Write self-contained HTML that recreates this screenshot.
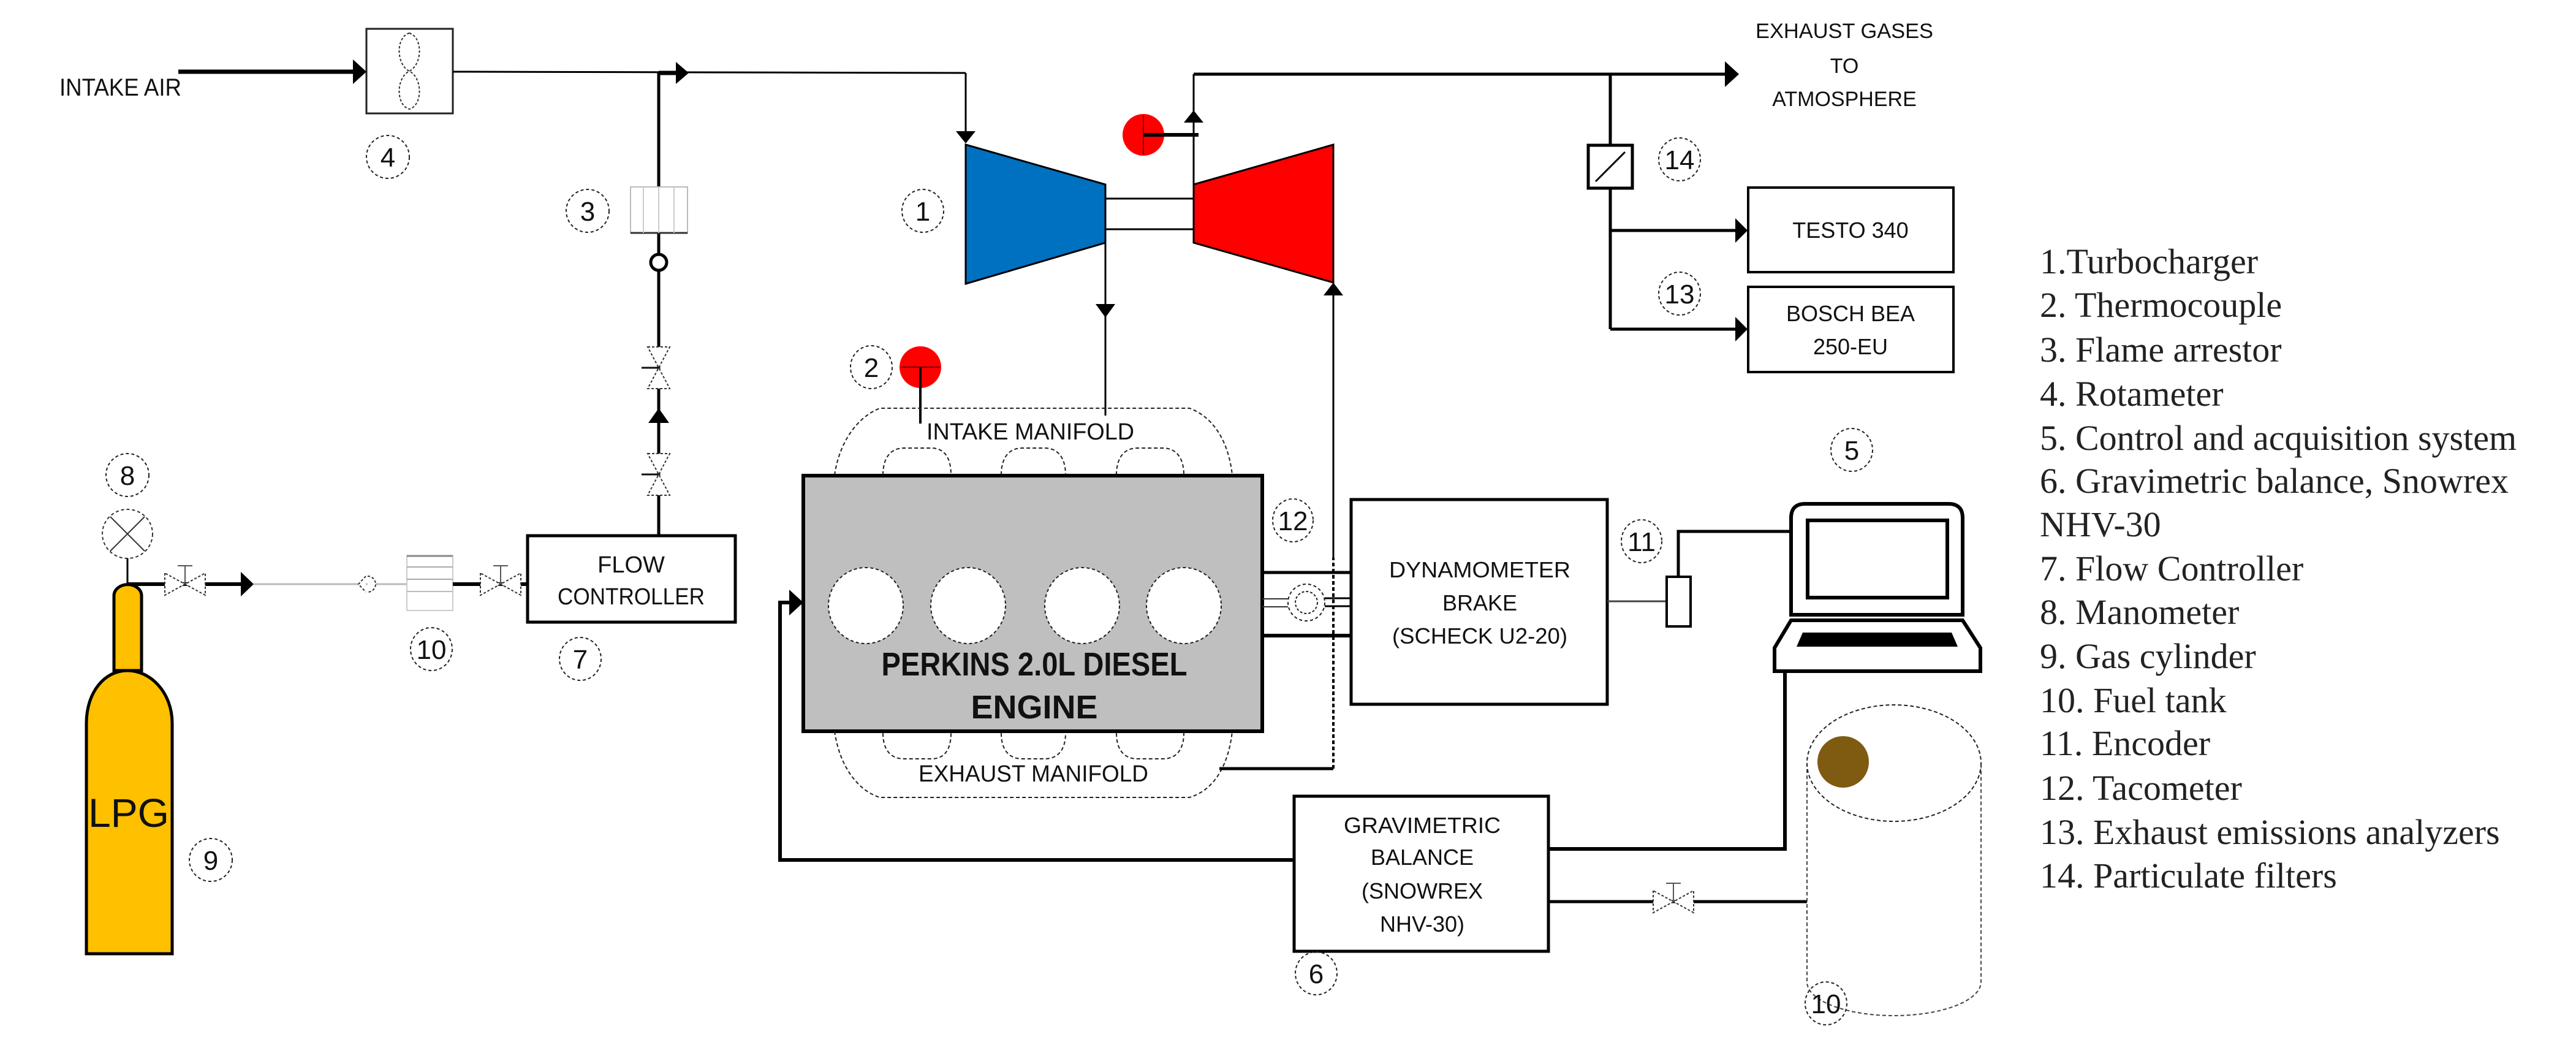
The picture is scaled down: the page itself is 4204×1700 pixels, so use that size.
<!DOCTYPE html>
<html><head><meta charset="utf-8"><style>
html,body{margin:0;padding:0;background:#fff;}
svg{display:block;}
.s{font-family:"Liberation Sans",sans-serif;fill:#111;}
.n{font-family:"Liberation Sans",sans-serif;font-size:44px;fill:#111;text-anchor:middle;}
.lg{font-family:"Liberation Serif",serif;font-size:58px;fill:#222;}
</style></head><body>
<svg width="4204" height="1700" viewBox="0 0 4204 1700" xmlns="http://www.w3.org/2000/svg">
<defs>
<g id="valveH"><path d="M-33,-18 L-33,18 L33,-18 L33,18 Z" fill="#fff" stroke="#333" stroke-width="2" stroke-dasharray="4,3"/><line x1="0" y1="0" x2="0" y2="-30" stroke="#555" stroke-width="2"/><line x1="-12" y1="-30" x2="12" y2="-30" stroke="#555" stroke-width="2"/></g>
<g id="valveV"><path d="M-18,-34 L18,-34 L-18,34 L18,34 Z" fill="#fff" stroke="#333" stroke-width="2" stroke-dasharray="4,3"/><line x1="0" y1="0" x2="-28" y2="0" stroke="#111" stroke-width="3"/></g>
</defs>
<rect width="4204" height="1700" fill="#fff"/>

<text class="s" x="97" y="156" font-size="40" textLength="199" lengthAdjust="spacingAndGlyphs">INTAKE AIR</text>
<line x1="291" y1="117" x2="580" y2="117" stroke="#000" stroke-width="7"/>
<polygon points="576,97 598,117 576,137" fill="#000"/>
<rect x="598" y="47" width="141" height="138" fill="#fff" stroke="#222" stroke-width="3"/>
<path d="M668,54 C690,60 690,105 668,116 C646,127 646,172 668,178 C690,172 690,127 668,116 C646,105 646,60 668,54 Z" fill="none" stroke="#333" stroke-width="2" stroke-dasharray="4,3"/>
<ellipse cx="633" cy="256" rx="35" ry="35" fill="none" stroke="#222" stroke-width="2" stroke-dasharray="5,4"/><text class="n" x="633" y="272">4</text>

<line x1="739" y1="117" x2="1576" y2="119" stroke="#000" stroke-width="3"/>
<line x1="1576" y1="119" x2="1576" y2="220" stroke="#000" stroke-width="3"/>
<polygon points="1560,214 1592,214 1576,234" fill="#000"/>
<line x1="1075" y1="119" x2="1075" y2="874" stroke="#000" stroke-width="5"/>
<polygon points="1103,101 1124,119 1103,137" fill="#000"/>
<line x1="1075" y1="119" x2="1105" y2="119" stroke="#000" stroke-width="7"/>
<rect x="1029" y="305" width="93" height="75" fill="#fff" stroke="#bbb" stroke-width="2"/>
<line x1="1029" y1="380" x2="1122" y2="380" stroke="#333" stroke-width="3"/>
<line x1="1050" y1="305" x2="1050" y2="380" stroke="#ccc" stroke-width="2"/><line x1="1075" y1="305" x2="1075" y2="380" stroke="#ccc" stroke-width="2"/><line x1="1100" y1="305" x2="1100" y2="380" stroke="#ccc" stroke-width="2"/>
<ellipse cx="959" cy="344" rx="35" ry="35" fill="none" stroke="#222" stroke-width="2" stroke-dasharray="5,4"/><text class="n" x="959" y="360">3</text>
<circle cx="1075" cy="428" r="13" fill="#fff" stroke="#000" stroke-width="5"/>
<use href="#valveV" x="1075" y="600"/>
<polygon points="1058,690 1092,690 1075,666" fill="#000"/>
<use href="#valveV" x="1075" y="774"/>

<rect x="861" y="874" width="339" height="141" fill="#fff" stroke="#000" stroke-width="5"/>
<text class="s" x="1030" y="934" font-size="38" text-anchor="middle">FLOW</text>
<text class="s" x="1030" y="986" font-size="38" text-anchor="middle" textLength="240" lengthAdjust="spacingAndGlyphs">CONTROLLER</text>
<ellipse cx="947" cy="1075" rx="34" ry="35" fill="none" stroke="#222" stroke-width="2" stroke-dasharray="5,4"/><text class="n" x="947" y="1091">7</text>

<ellipse cx="208" cy="871" rx="41" ry="40" fill="#fff" stroke="#333" stroke-width="2" stroke-dasharray="5,4"/>
<line x1="180" y1="843" x2="236" y2="899" stroke="#333" stroke-width="2"/><line x1="236" y1="843" x2="180" y2="899" stroke="#333" stroke-width="2"/>
<ellipse cx="208" cy="775" rx="35" ry="35" fill="none" stroke="#222" stroke-width="2" stroke-dasharray="5,4"/><text class="n" x="208" y="791">8</text>
<line x1="208" y1="911" x2="208" y2="953" stroke="#000" stroke-width="3"/>
<line x1="208" y1="953" x2="400" y2="953" stroke="#000" stroke-width="6"/>
<use href="#valveH" x="302" y="953"/>
<polygon points="393,933 414,953 393,973" fill="#000"/>
<line x1="414" y1="953" x2="664" y2="953" stroke="#bbb" stroke-width="3"/>
<path d="M597,940 L585,953 L597,966 M600,940 A13,13 0 1 1 600,966" fill="#fff" stroke="#333" stroke-width="2" stroke-dasharray="4,3"/>
<rect x="664" y="907" width="75" height="89" fill="#fff" stroke="#ccc" stroke-width="2"/>
<line x1="664" y1="907" x2="739" y2="907" stroke="#888" stroke-width="3"/><line x1="664" y1="925" x2="739" y2="925" stroke="#aaa" stroke-width="2"/><line x1="664" y1="945" x2="739" y2="945" stroke="#aaa" stroke-width="2"/><line x1="664" y1="965" x2="739" y2="965" stroke="#bbb" stroke-width="2"/>
<line x1="739" y1="953" x2="861" y2="953" stroke="#000" stroke-width="6"/>
<use href="#valveH" x="817" y="953"/>
<ellipse cx="704" cy="1059" rx="34" ry="35" fill="none" stroke="#222" stroke-width="2" stroke-dasharray="5,4"/><text class="n" x="704" y="1075">10</text>

<path d="M186,1094 L186,972 A22,18 0 0 1 231,972 L231,1094 Z" fill="#ffc000" stroke="#000" stroke-width="5"/>
<path d="M141,1556 L141,1180 C141,1130 170,1094 208,1094 C246,1094 281,1130 281,1180 L281,1556 Z" fill="#ffc000" stroke="#000" stroke-width="5"/>
<text class="s" x="210" y="1349" font-size="66" text-anchor="middle">LPG</text>
<ellipse cx="344" cy="1403" rx="35" ry="35" fill="none" stroke="#222" stroke-width="2" stroke-dasharray="5,4"/><text class="n" x="344" y="1419">9</text>

<polygon points="1576,236 1804,301 1804,396 1576,463" fill="#0070c0" stroke="#000" stroke-width="3"/>
<polygon points="1948,301 2176,236 2176,461 1948,396" fill="#ff0000" stroke="#000" stroke-width="3"/>
<line x1="1804" y1="324" x2="1948" y2="324" stroke="#000" stroke-width="3"/>
<line x1="1804" y1="374" x2="1948" y2="374" stroke="#000" stroke-width="3"/>
<ellipse cx="1506" cy="344" rx="34" ry="35" fill="none" stroke="#222" stroke-width="2" stroke-dasharray="5,4"/><text class="n" x="1506" y="360">1</text>
<line x1="1804" y1="396" x2="1804" y2="678" stroke="#000" stroke-width="3"/>
<polygon points="1788,496 1820,496 1804,518" fill="#000"/>
<line x1="1948" y1="301" x2="1948" y2="121" stroke="#000" stroke-width="3"/>
<polygon points="1932,200 1964,200 1948,180" fill="#000"/>
<line x1="1948" y1="121" x2="2815" y2="121" stroke="#000" stroke-width="5"/>
<polygon points="2815,100 2838,121 2815,142" fill="#000"/>
<ellipse cx="1866" cy="220" rx="34" ry="34" fill="#ff0000"/>
<line x1="1866" y1="188" x2="1866" y2="252" stroke="#600" stroke-width="2"/>
<line x1="1866" y1="220" x2="1956" y2="220" stroke="#000" stroke-width="6"/>
<text class="s" x="3010" y="62" font-size="34" text-anchor="middle" textLength="290" lengthAdjust="spacingAndGlyphs">EXHAUST GASES</text>
<text class="s" x="3010" y="119" font-size="34" text-anchor="middle">TO</text>
<text class="s" x="3010" y="173" font-size="34" text-anchor="middle">ATMOSPHERE</text>

<line x1="2628" y1="121" x2="2628" y2="537" stroke="#000" stroke-width="5"/>
<rect x="2592" y="237" width="72" height="70" fill="#fff" stroke="#000" stroke-width="5"/>
<line x1="2604" y1="296" x2="2652" y2="248" stroke="#000" stroke-width="3"/>
<ellipse cx="2741" cy="260" rx="34" ry="35" fill="none" stroke="#222" stroke-width="2" stroke-dasharray="5,4"/><text class="n" x="2741" y="276">14</text>
<line x1="2628" y1="376" x2="2835" y2="376" stroke="#000" stroke-width="5"/>
<polygon points="2832,356 2852,376 2832,396" fill="#000"/>
<line x1="2628" y1="537" x2="2835" y2="537" stroke="#000" stroke-width="5"/>
<polygon points="2832,517 2852,537 2832,557" fill="#000"/>
<rect x="2853" y="306" width="335" height="138" fill="#fff" stroke="#000" stroke-width="4"/>
<text class="s" x="3020" y="388" font-size="36" text-anchor="middle">TESTO 340</text>
<rect x="2853" y="468" width="335" height="139" fill="#fff" stroke="#000" stroke-width="4"/>
<text class="s" x="3020" y="524" font-size="36" text-anchor="middle">BOSCH BEA</text>
<text class="s" x="3020" y="578" font-size="36" text-anchor="middle">250-EU</text>
<ellipse cx="2741" cy="479" rx="34" ry="35" fill="none" stroke="#222" stroke-width="2" stroke-dasharray="5,4"/><text class="n" x="2741" y="495">13</text>

<ellipse cx="1502" cy="599" rx="34" ry="34" fill="#ff0000"/>
<line x1="1470" y1="599" x2="1534" y2="599" stroke="#600" stroke-width="2"/>
<line x1="1502" y1="599" x2="1502" y2="691" stroke="#000" stroke-width="4"/>
<ellipse cx="1422" cy="599" rx="34" ry="35" fill="none" stroke="#222" stroke-width="2" stroke-dasharray="5,4"/><text class="n" x="1422" y="615">2</text>

<path d="M1362,775 C1370,720 1400,680 1436,666 L1941,666 C1980,680 2005,720 2011,775" fill="none" stroke="#222" stroke-width="2" stroke-dasharray="6,4"/>
<path d="M1441,775 C1441,745 1455,731 1475,731 L1520,731 C1540,731 1552,745 1552,775" fill="none" stroke="#222" stroke-width="2" stroke-dasharray="6,4"/>
<path d="M1634,775 C1634,745 1648,731 1668,731 L1705,731 C1725,731 1739,745 1739,775" fill="none" stroke="#222" stroke-width="2" stroke-dasharray="6,4"/>
<path d="M1822,775 C1822,745 1836,731 1856,731 L1898,731 C1918,731 1932,745 1932,775" fill="none" stroke="#222" stroke-width="2" stroke-dasharray="6,4"/>
<text class="s" x="1512" y="717" font-size="38" textLength="339" lengthAdjust="spacingAndGlyphs">INTAKE MANIFOLD</text>

<rect x="1311" y="776" width="749" height="417" fill="#bfbfbf" stroke="#000" stroke-width="6"/>
<g fill="#fff" stroke="#222" stroke-width="2" stroke-dasharray="5,4">
<ellipse cx="1413" cy="988" rx="61" ry="62"/><ellipse cx="1580" cy="988" rx="61" ry="62"/><ellipse cx="1766" cy="988" rx="61" ry="62"/><ellipse cx="1932" cy="988" rx="61" ry="62"/>
</g>
<text class="s" x="1688" y="1102" font-size="54" font-weight="bold" text-anchor="middle" textLength="499" lengthAdjust="spacingAndGlyphs">PERKINS 2.0L DIESEL</text>
<text class="s" x="1688" y="1172" font-size="54" font-weight="bold" text-anchor="middle">ENGINE</text>

<path d="M1362,1193 C1370,1250 1400,1290 1436,1301 L1941,1301 C1980,1290 2005,1250 2011,1193" fill="none" stroke="#222" stroke-width="2" stroke-dasharray="6,4"/>
<path d="M1441,1196 C1441,1225 1455,1238 1475,1238 L1520,1238 C1540,1238 1552,1225 1552,1196" fill="none" stroke="#222" stroke-width="2" stroke-dasharray="6,4"/>
<path d="M1634,1196 C1634,1225 1648,1238 1668,1238 L1705,1238 C1725,1238 1739,1225 1739,1196" fill="none" stroke="#222" stroke-width="2" stroke-dasharray="6,4"/>
<path d="M1822,1196 C1822,1225 1836,1238 1856,1238 L1898,1238 C1918,1238 1932,1225 1932,1196" fill="none" stroke="#222" stroke-width="2" stroke-dasharray="6,4"/>
<text class="s" x="1499" y="1275" font-size="38" textLength="375" lengthAdjust="spacingAndGlyphs">EXHAUST MANIFOLD</text>
<line x1="1990" y1="1254" x2="2176" y2="1254" stroke="#000" stroke-width="5"/>
<line x1="2176" y1="1254" x2="2176" y2="910" stroke="#000" stroke-width="4" stroke-dasharray="6,4"/>
<line x1="2176" y1="910" x2="2176" y2="470" stroke="#000" stroke-width="3"/>
<polygon points="2160,482 2192,482 2176,461" fill="#000"/>

<polyline points="2112,1403 1273,1403 1273,983 1295,983" fill="none" stroke="#000" stroke-width="6"/>
<polygon points="1288,962 1311,983 1288,1004" fill="#000"/>

<line x1="2060" y1="934" x2="2205" y2="934" stroke="#000" stroke-width="5"/>
<line x1="2060" y1="1037" x2="2205" y2="1037" stroke="#000" stroke-width="6"/>
<line x1="2060" y1="977" x2="2102" y2="977" stroke="#333" stroke-width="2"/><line x1="2060" y1="990" x2="2102" y2="990" stroke="#333" stroke-width="2"/>
<line x1="2162" y1="976" x2="2205" y2="976" stroke="#000" stroke-width="3"/><line x1="2162" y1="989" x2="2205" y2="989" stroke="#000" stroke-width="3"/>
<circle cx="2132" cy="983" r="30" fill="#fff" stroke="#222" stroke-width="2" stroke-dasharray="5,4"/>
<circle cx="2132" cy="983" r="18" fill="none" stroke="#222" stroke-width="2" stroke-dasharray="4,3"/>
<ellipse cx="2110" cy="849" rx="33" ry="35" fill="none" stroke="#222" stroke-width="2" stroke-dasharray="5,4"/><text class="n" x="2110" y="865">12</text>

<rect x="2205" y="815" width="418" height="334" fill="#fff" stroke="#000" stroke-width="5"/>
<text class="s" x="2415" y="942" font-size="36" text-anchor="middle" textLength="296" lengthAdjust="spacingAndGlyphs">DYNAMOMETER</text>
<text class="s" x="2415" y="996" font-size="36" text-anchor="middle">BRAKE</text>
<text class="s" x="2415" y="1050" font-size="36" text-anchor="middle" textLength="286" lengthAdjust="spacingAndGlyphs">(SCHECK U2-20)</text>
<line x1="2623" y1="981" x2="2720" y2="981" stroke="#444" stroke-width="3"/>
<rect x="2720" y="941" width="39" height="81" fill="#fff" stroke="#000" stroke-width="4"/>
<polyline points="2739,941 2739,867 2924,867" fill="none" stroke="#000" stroke-width="5"/>
<ellipse cx="2679" cy="883" rx="33" ry="35" fill="none" stroke="#222" stroke-width="2" stroke-dasharray="5,4"/><text class="n" x="2679" y="899">11</text>

<path d="M2923,1003 L2923,845 Q2923,822 2946,822 L3180,822 Q3203,822 3203,845 L3203,1003 Z" fill="#fff" stroke="#000" stroke-width="6"/>
<rect x="2950" y="849" width="228" height="126" fill="#fff" stroke="#000" stroke-width="6"/>
<path d="M2923,1012 L3203,1012 L3232,1057 L3232,1095 L2896,1095 L2896,1057 Z" fill="#fff" stroke="#000" stroke-width="6"/>
<polygon points="2942,1032 3185,1032 3195,1055 2932,1055" fill="#000"/>
<ellipse cx="3022" cy="734" rx="34" ry="35" fill="none" stroke="#222" stroke-width="2" stroke-dasharray="5,4"/><text class="n" x="3022" y="750">5</text>
<polyline points="2913,1095 2913,1385 2527,1385" fill="none" stroke="#000" stroke-width="6"/>

<rect x="2112" y="1299" width="415" height="253" fill="#fff" stroke="#000" stroke-width="5"/>
<text class="s" x="2321" y="1359" font-size="36" text-anchor="middle" textLength="256" lengthAdjust="spacingAndGlyphs">GRAVIMETRIC</text>
<text class="s" x="2321" y="1411" font-size="36" text-anchor="middle">BALANCE</text>
<text class="s" x="2321" y="1466" font-size="36" text-anchor="middle">(SNOWREX</text>
<text class="s" x="2321" y="1520" font-size="36" text-anchor="middle">NHV-30)</text>
<ellipse cx="2148" cy="1588" rx="34" ry="35" fill="none" stroke="#222" stroke-width="2" stroke-dasharray="5,4"/><text class="n" x="2148" y="1604">6</text>
<line x1="2527" y1="1471" x2="2949" y2="1471" stroke="#000" stroke-width="5"/>
<use href="#valveH" x="2731" y="1471"/>

<path d="M2949,1245 L2949,1602 A142,55 0 0 0 3233,1602 L3233,1245" fill="#fff" stroke="#444" stroke-width="2" stroke-dasharray="6,4"/>
<ellipse cx="3091" cy="1245" rx="142" ry="95" fill="#fff" stroke="#222" stroke-width="2" stroke-dasharray="6,4"/>
<circle cx="3008" cy="1243" r="42" fill="#7f5b12"/>
<ellipse cx="2980" cy="1637" rx="34" ry="35" fill="none" stroke="#222" stroke-width="2" stroke-dasharray="5,4"/><text class="n" x="2980" y="1653">10</text>

<text class="lg" x="3329" y="446">1.Turbocharger</text>
<text class="lg" x="3329" y="517">2. Thermocouple</text>
<text class="lg" x="3329" y="590">3. Flame arrestor</text>
<text class="lg" x="3329" y="662">4. Rotameter</text>
<text class="lg" x="3329" y="734">5. Control and acquisition system</text>
<text class="lg" x="3329" y="804">6. Gravimetric balance, Snowrex</text>
<text class="lg" x="3329" y="875">NHV-30</text>
<text class="lg" x="3329" y="947">7. Flow Controller</text>
<text class="lg" x="3329" y="1018">8. Manometer</text>
<text class="lg" x="3329" y="1090">9. Gas cylinder</text>
<text class="lg" x="3329" y="1162">10. Fuel tank</text>
<text class="lg" x="3329" y="1232">11. Encoder</text>
<text class="lg" x="3329" y="1305">12. Tacometer</text>
<text class="lg" x="3329" y="1377">13. Exhaust emissions analyzers</text>
<text class="lg" x="3329" y="1448">14. Particulate filters</text>
</svg>
</body></html>
